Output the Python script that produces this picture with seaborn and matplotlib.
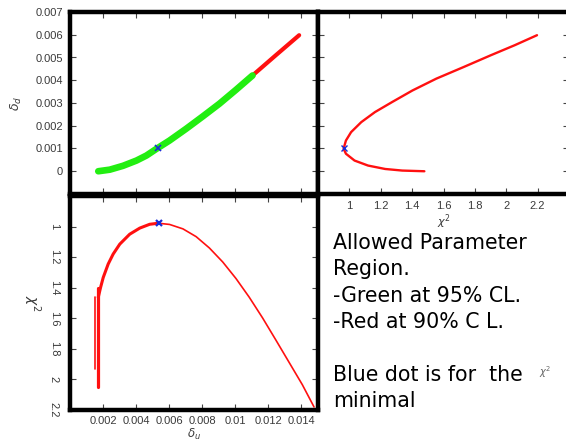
import matplotlib
matplotlib.use("Agg")
import matplotlib.pyplot as plt
import seaborn as sns

# panel 1: delta_d vs delta_u (green = 95% CL part, red = 90% CL)
p1_du = [0.00171, 0.00241, 0.00321, 0.00402, 0.00462, 0.00526, 0.00602, 0.00703,
         0.00803, 0.00904, 0.01004, 0.01104, 0.01245, 0.01386]
p1_dd = [0.0, 0.00007, 0.00024, 0.00047, 0.00069, 0.0010, 0.00135, 0.00187,
         0.00241, 0.00297, 0.00358, 0.00421, 0.0051, 0.00598]
p1_green_du = [0.00171, 0.00241, 0.00321, 0.00402, 0.00462, 0.00526, 0.00602, 0.00703,
               0.00803, 0.00904, 0.01004, 0.01104]
p1_green_dd = [0.0, 0.00007, 0.00024, 0.00047, 0.00069, 0.0010, 0.00135, 0.00187,
               0.00241, 0.00297, 0.00358, 0.00421]

# panel 2: delta_d vs chi^2
p2_chi = [1.478, 1.337, 1.228, 1.119, 1.033, 0.978, 0.963, 0.978, 1.011, 1.076, 1.163,
          1.272, 1.402, 1.554, 1.728, 1.902, 2.054, 2.196]
p2_dd = [0.0, 0.00003, 0.0001, 0.00025, 0.00047, 0.00077, 0.00099, 0.00135, 0.00172,
         0.00216, 0.0026, 0.00304, 0.00355, 0.00407, 0.00458, 0.0051, 0.00554, 0.00598]

# panel 3: chi^2 vs delta_u
p3_left_du = [0.00171, 0.00185, 0.00201, 0.00231, 0.00261, 0.00301, 0.00361, 0.00422,
              0.00482, 0.00535]
p3_left_chi = [1.463, 1.398, 1.333, 1.245, 1.18, 1.115, 1.05, 1.01, 0.985, 0.978]
p3_right_du = [0.00532, 0.00602, 0.00683, 0.00763, 0.00843, 0.00924, 0.01004, 0.01084,
               0.01165, 0.01245, 0.01325, 0.01405, 0.01476]
p3_right_chi = [0.978, 0.986, 1.015, 1.066, 1.14, 1.232, 1.34, 1.462, 1.598, 1.742,
                1.888, 2.034, 2.18]
spike1_du = [0.00152, 0.00152]
spike1_chi = [1.46, 1.93]
spike2_du = [0.00172, 0.00172]
spike2_chi = [1.40, 2.05]

# best fit points (blue)
best_du = 0.0053
best_dd = 0.001
best_chi = 0.966
best3_du = 0.0054
best3_chi = 0.975

x_ticks_du = [0.002, 0.004, 0.006, 0.008, 0.010, 0.012, 0.014]
x_labels_du = ["0.002", "0.004", "0.006", "0.008", "0.01", "0.012", "0.014"]
y_ticks_dd = [0, 0.001, 0.002, 0.003, 0.004, 0.005, 0.006, 0.007]
y_labels_dd = ["0", "0.001", "0.002", "0.003", "0.004", "0.005", "0.006", "0.007"]
chi_ticks = [1.0, 1.2, 1.4, 1.6, 1.8, 2.0, 2.2]
chi_labels = ["1", "1.2", "1.4", "1.6", "1.8", "2", "2.2"]

note = ("Allowed Parameter\nRegion.\n-Green at 95% CL.\n-Red at 90% C L.\n\n"
        "Blue dot is for  the\nminimal")

sns.set_style("white")
plt.rcParams["font.family"] = ["Liberation Sans", "DejaVu Sans"]

RED = "#ff1010"
GREEN = "#22ee11"
BLUE = "#1a2bd8"
TICK_COL = "#3a3a3a"

fig = plt.figure(figsize=(5.66, 4.44), dpi=100)
W, H = 566, 444


def box(x0, y0, x1, y1):
    return [x0 / W, 1 - y1 / H, (x1 - x0) / W, (y1 - y0) / H]


ax1 = fig.add_axes(box(70, 12, 318, 194))
ax2 = fig.add_axes(box(318, 12, 569, 194))
ax3 = fig.add_axes(box(70, 196, 318, 410))

for ax in (ax1, ax2, ax3):
    for s in ax.spines.values():
        s.set_linewidth(3.2)
        s.set_color("black")
    ax.tick_params(direction="in", length=4, width=0.8, color="#444444",
                   top=True, right=True, left=True, bottom=True,
                   labelsize=8, labelcolor=TICK_COL)

# panel 1
sns.lineplot(x=p1_du, y=p1_dd, sort=False, estimator=None, color=RED, lw=3, ax=ax1)
sns.lineplot(x=p1_green_du, y=p1_green_dd, sort=False, estimator=None, color=GREEN,
             lw=4.8, ax=ax1)
ax1.plot(best_du, best_dd, marker="x", color=BLUE, ms=4, mew=1.2)
ax1.set_xlim(0, 0.015)
ax1.set_ylim(-0.001, 0.007)
ax1.set_xticks([0.0] + x_ticks_du)
ax1.set_xticklabels([])
ax1.set_yticks(y_ticks_dd)
ax1.set_yticklabels(y_labels_dd)
ax1.tick_params(axis="y", pad=5)
ax1.set_ylabel(r"$\delta_d$", fontsize=9, color=TICK_COL, labelpad=8)

# panel 2
sns.lineplot(x=p2_chi, y=p2_dd, sort=False, estimator=None, color=RED, lw=1.7, ax=ax2)
ax2.plot(best_chi, best_dd, marker="x", color=BLUE, ms=4, mew=1.0)
ax2.set_xlim(0.8, 2.4)
ax2.set_ylim(-0.001, 0.007)
ax2.set_xticks(chi_ticks)
ax2.set_xticklabels(chi_labels)
ax2.set_yticks([-0.001] + y_ticks_dd)
ax2.set_yticklabels([])
ax2.tick_params(axis="x", pad=5)
ax2.set_xlabel(r"$\chi^2$", fontsize=8, color=TICK_COL, labelpad=1)

# panel 3
sns.lineplot(x=p3_left_du, y=p3_left_chi, sort=False, estimator=None, color=RED, lw=2.2,
             ax=ax3)
sns.lineplot(x=p3_right_du, y=p3_right_chi, sort=False, estimator=None, color=RED, lw=1.2,
             ax=ax3)
sns.lineplot(x=spike1_du, y=spike1_chi, sort=False, estimator=None, color=RED, lw=1.2, ax=ax3)
sns.lineplot(x=spike2_du, y=spike2_chi, sort=False, estimator=None, color=RED, lw=2.3, ax=ax3)
ax3.plot(best3_du, best3_chi, marker="x", color=BLUE, ms=5, mew=1.6)
ax3.set_xlim(0, 0.015)
ax3.set_ylim(2.2, 0.8)
ax3.set_xticks(x_ticks_du)
ax3.set_xticklabels(x_labels_du)
ax3.set_yticks([0.8] + chi_ticks)
ax3.set_yticklabels([""] + chi_labels, rotation=-90, va="center")
ax3.tick_params(axis="x", pad=4)
ax3.tick_params(axis="y", pad=8)
ax3.set_xlabel(r"$\delta_u$", fontsize=8.5, color=TICK_COL, labelpad=1)
ax3.set_ylabel(r"$\chi^2$", fontsize=10, color=TICK_COL, rotation=-90, labelpad=12,
               va="center")

fig.text(333 / W, 1 - 233 / H, note, fontsize=14.8, family="DejaVu Sans",
         va="top", ha="left", linespacing=1.40, color="black")
fig.text(545 / W, 1 - 372 / H, r"$\chi^2$", fontsize=7, color="#666666",
         ha="center", va="center")

fig.savefig("out.png", dpi=100)
